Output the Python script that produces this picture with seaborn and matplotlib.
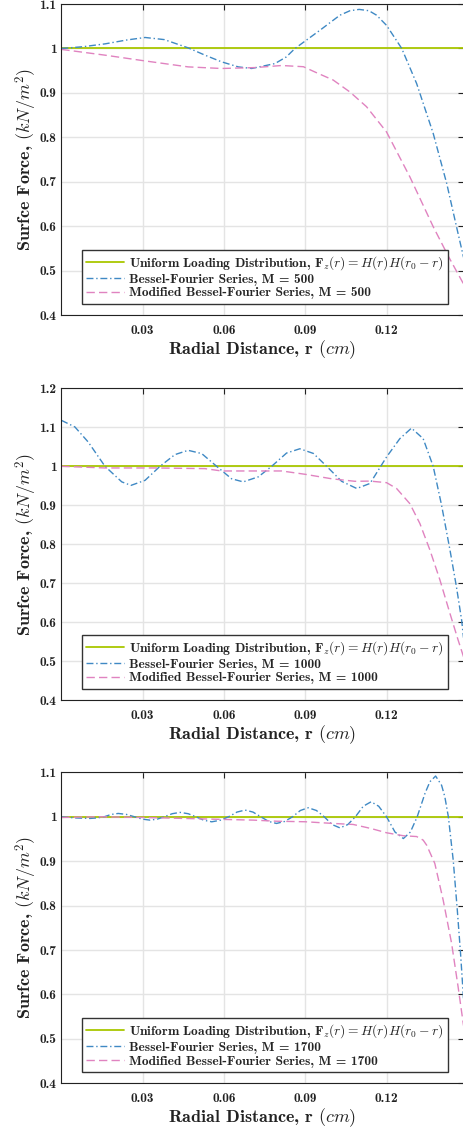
import matplotlib
matplotlib.use("Agg")
import matplotlib.pyplot as plt
import matplotlib.ticker as mticker
import seaborn as sns

# radial positions (cm) and surface force values
uniform_r = [0.0, 0.1484]
uniform_f = [1.0, 1.0]

# M = 500
bessel500_r = [0.0, 0.008, 0.0161, 0.024, 0.0309, 0.038, 0.0468, 0.053, 0.0591, 0.0653,
               0.0702, 0.0788, 0.083, 0.0862, 0.0954, 0.1028, 0.1065, 0.1099, 0.1135, 0.1163,
               0.12, 0.1256, 0.1311, 0.1372, 0.1422, 0.1458, 0.1484]
bessel500_f = [1.0, 1.004, 1.0104, 1.019, 1.0248, 1.020, 1.0014, 0.985, 0.970, 0.9586,
               0.955, 0.966, 0.981, 1.0, 1.041, 1.075, 1.085, 1.088, 1.085, 1.075,
               1.052, 1.0, 0.921, 0.809, 0.696, 0.599, 0.530]
modified500_r = [0.0, 0.0161, 0.0309, 0.0468, 0.0591, 0.0714, 0.0813, 0.0893, 0.0936, 0.1003,
                 0.1065, 0.1126, 0.12, 0.1286, 0.1372, 0.143, 0.1484]
modified500_f = [0.998, 0.985, 0.972, 0.9586, 0.955, 0.957, 0.9617, 0.959, 0.947, 0.929,
                 0.902, 0.869, 0.812, 0.711, 0.599, 0.530, 0.470]

# M = 1000
bessel1000_r = [0.0, 0.005, 0.00995, 0.0161, 0.0223, 0.0257, 0.0309, 0.0364, 0.0419, 0.0468,
                0.0518, 0.0573, 0.0628, 0.0671, 0.0727, 0.0776, 0.0831, 0.088, 0.093, 0.0979,
                0.1034, 0.109, 0.1139, 0.12, 0.1249, 0.1292, 0.1335, 0.1372, 0.1403, 0.1434,
                0.1458, 0.1477, 0.1484]
bessel1000_f = [1.118, 1.101, 1.062, 1.0, 0.960, 0.951, 0.964, 1.0, 1.030, 1.041,
                1.0326, 1.0, 0.968, 0.960, 0.973, 1.0, 1.034, 1.045, 1.033, 1.0,
                0.9615, 0.943, 0.956, 1.024, 1.071, 1.098, 1.071, 1.0, 0.9, 0.785,
                0.690, 0.605, 0.56]
modified1000_r = [0.0, 0.0161, 0.0346, 0.053, 0.0591, 0.0714, 0.0813, 0.0899, 0.0997, 0.1083,
                  0.1139, 0.12, 0.1237, 0.1286, 0.1323, 0.136, 0.1397, 0.1434, 0.1464, 0.1484]
modified1000_f = [1.0, 0.9957, 0.9957, 0.994, 0.988, 0.988, 0.988, 0.9795, 0.968, 0.9615,
                  0.962, 0.958, 0.943, 0.904, 0.853, 0.785, 0.708, 0.622, 0.554, 0.511]

# M = 1700
bessel1700_r = [0.0, 0.0053, 0.0106, 0.0132, 0.0158, 0.0184, 0.021, 0.024, 0.027, 0.0299,
                0.0327, 0.0354, 0.038, 0.0409, 0.0438, 0.0468, 0.0497, 0.0526, 0.0555, 0.0586,
                0.0617, 0.0648, 0.0678, 0.0707, 0.0736, 0.0765, 0.0794, 0.0824, 0.0853, 0.0882,
                0.0911, 0.0941, 0.097, 0.0999, 0.1028, 0.1057, 0.1085, 0.1114, 0.1143, 0.1171,
                0.12, 0.1231, 0.1262, 0.1288, 0.1313, 0.1342, 0.136, 0.1381, 0.1403, 0.1415,
                0.1428, 0.1446, 0.1461, 0.1473, 0.1484]
bessel1700_f = [1.0, 0.9974, 0.9963, 0.9974, 1.0, 1.0053, 1.0075, 1.0053, 1.0, 0.9947,
                0.9925, 0.9947, 1.0, 1.0069, 1.0099, 1.0069, 1.0, 0.9921, 0.9887, 0.9921,
                1.0, 1.0106, 1.0151, 1.0106, 1.0, 0.9895, 0.985, 0.9895, 1.0, 1.0142,
                1.0203, 1.0142, 1.0, 0.9825, 0.975, 0.9825, 1.0, 1.0237, 1.0338, 1.0237,
                1.0, 0.9657, 0.951, 0.9657, 1.0, 1.053, 1.079, 1.0917, 1.071, 1.045,
                1.0, 0.902, 0.79, 0.692, 0.59]
modified1700_r = [0.0, 0.0143, 0.03, 0.045, 0.06, 0.0708, 0.0794, 0.09, 0.1003, 0.1077,
                  0.1142, 0.12, 0.1262, 0.1311, 0.1335, 0.1348, 0.1378, 0.1409, 0.144, 0.1464,
                  0.1484]
modified1700_f = [0.9985, 1.0, 0.9985, 0.9963, 0.994, 0.9925, 0.990, 0.9888, 0.985, 0.9827,
                  0.9737, 0.964, 0.9573, 0.9555, 0.9475, 0.936, 0.895, 0.812, 0.715, 0.617,
                  0.53]

orders = [500, 1000, 1700]
ylims = [(0.4, 1.1), (0.4, 1.2), (0.4, 1.1)]
xticks = [0.03, 0.06, 0.09, 0.12]

sns.set_theme(style="white")
plt.rcParams['font.family'] = ['cmb10']
plt.rcParams['mathtext.fontset'] = 'cm'
plt.rcParams['axes.unicode_minus'] = False

green = '#a9c700'
blue = '#3f89c4'
pink = '#e083c0'

fig = plt.figure(figsize=(4.64, 11.3), dpi=100)
positions = [[0.1322, 0.7212, 0.8668, 0.2752],
             [0.1322, 0.3805, 0.8668, 0.2758],
             [0.1322, 0.0413, 0.8668, 0.2752]]

series = [(bessel500_r, bessel500_f, modified500_r, modified500_f),
          (bessel1000_r, bessel1000_f, modified1000_r, modified1000_f),
          (bessel1700_r, bessel1700_f, modified1700_r, modified1700_f)]

for pos, m, ylim, (br, bf, mr, mf) in zip(positions, orders, ylims, series):
    ax = fig.add_axes(pos)
    sns.lineplot(x=uniform_r, y=uniform_f, ax=ax, color=green, linewidth=1.3,
                 label=r'Uniform Loading Distribution, $\mathbf{F}_z(r) = H(r)H(r_0 - r)$')
    sns.lineplot(x=br, y=bf, ax=ax, color=blue, linewidth=1.0, linestyle=(0, (5, 2, 1, 2)),
                 label=f'Bessel-Fourier Series, M = {m}')
    sns.lineplot(x=mr, y=mf, ax=ax, color=pink, linewidth=1.0, linestyle=(0, (6, 3)),
                 label=f'Modified Bessel-Fourier Series, M = {m}')

    ax.set_xlim(0, 0.1484)
    ax.set_ylim(*ylim)
    ax.set_xticks(xticks)
    ax.set_xticklabels(['0.03', '0.06', '0.09', '0.12'])
    ax.yaxis.set_major_locator(mticker.MultipleLocator(0.1))
    ax.yaxis.set_major_formatter(mticker.FuncFormatter(lambda v, p: f'{v:.1f}'.rstrip('0').rstrip('.')))
    ax.grid(True, color='#e4e4e4', linewidth=1.0)
    ax.tick_params(direction='in', top=True, right=True, length=4, width=0.8,
                   labelsize=9.6, colors='#222222')
    ax.tick_params(axis='x', pad=7)
    ax.tick_params(axis='y', pad=3.5)
    for s in ax.spines.values():
        s.set_color('#222222')
        s.set_linewidth(0.8)

    ax.set_xlabel(r'Radial Distance, r $(cm)$', fontsize=13, color='#222222', labelpad=1)
    ax.set_ylabel(r'Surfce Force, $(kN/m^2)$', fontsize=13, color='#222222', labelpad=0.5)

    leg = ax.legend(loc='lower left', bbox_to_anchor=(0.052, 0.037), fontsize=9.7,
                    frameon=True, fancybox=False, framealpha=1, edgecolor='#333333',
                    handlelength=2.8, handletextpad=0.4, labelspacing=0.1,
                    borderpad=0.3, borderaxespad=0)
    leg.get_frame().set_linewidth(1.0)

fig.savefig('out.png', dpi=100)
